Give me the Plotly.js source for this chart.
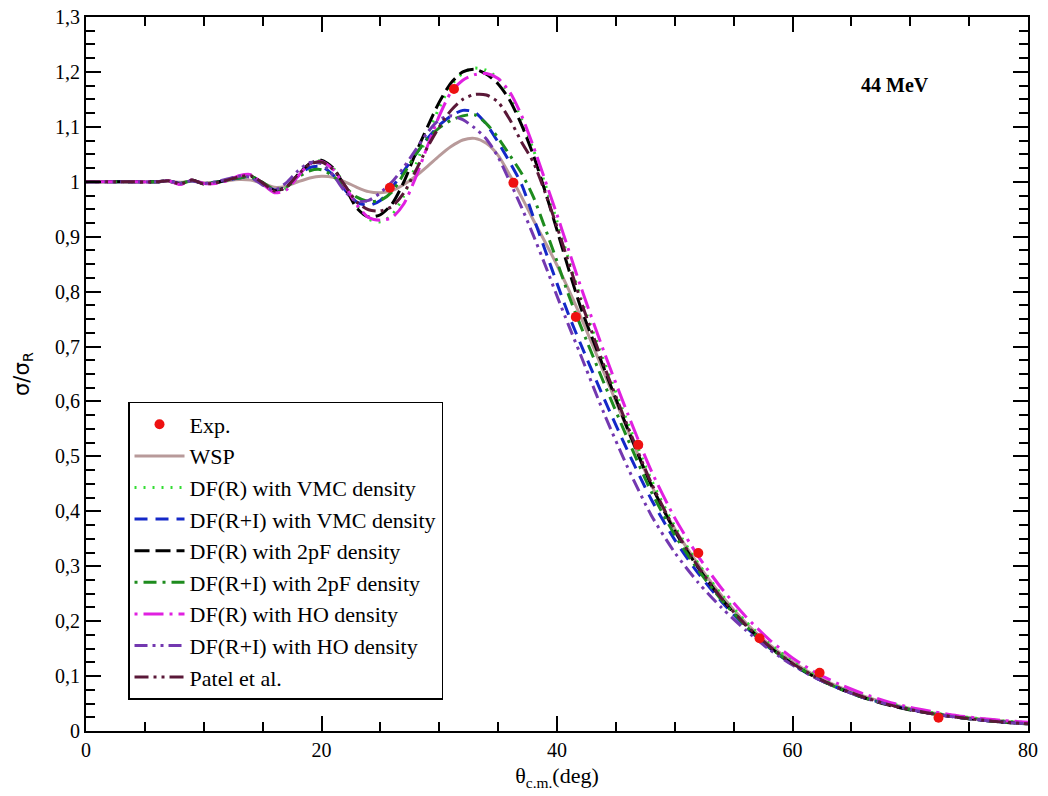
<!DOCTYPE html>
<html>
<head>
<meta charset="utf-8">
<script src="https://cdn.plot.ly/plotly-3.0.1.min.js"></script>
<style>html,body{margin:0;padding:0;background:#fff;}#chart{width:1048px;height:796px;}</style>
</head>
<body>
<div id="chart"></div>
<script>
// angle grid (deg) shared by all calculated curves
var theta = [0,3,6,7,8,9,10,11,12,13,14,15,16,17,18,19,20,21,22,23,24,25,26,27,28,29,30,31,32,33,34,35,36,37,38,39,40,41,42,44,46,48,50,52,54,56,58,60,62,64,66,68,70,72,74,76,78,80];

var wsp = [1.0,1.0,1.0,1.001,0.999,1.001,0.998,0.999,1.002,1.004,1.003,0.997,0.99,0.992,1.0,1.007,1.01,1.008,1.0,0.99,0.982,0.98,0.984,0.995,1.01,1.028,1.047,1.064,1.076,1.079,1.07,1.048,1.012,0.972,0.93,0.89,0.848,0.803,0.755,0.652,0.548,0.448,0.368,0.303,0.246,0.198,0.158,0.126,0.1,0.08,0.064,0.051,0.041,0.033,0.027,0.022,0.018,0.015];

var dfR_vmc = [1.0,1.0,1.0,1.002,0.996,1.003,0.996,0.998,1.003,1.009,1.011,0.997,0.981,0.988,1.012,1.033,1.038,1.025,0.993,0.957,0.932,0.927,0.94,0.975,1.03,1.085,1.135,1.175,1.198,1.207,1.203,1.188,1.158,1.113,1.058,0.995,0.928,0.858,0.79,0.673,0.562,0.458,0.373,0.305,0.248,0.2,0.16,0.128,0.102,0.081,0.065,0.052,0.041,0.033,0.027,0.022,0.018,0.015];

var dfRI_vmc = [1.0,1.0,1.0,1.001,0.997,1.002,0.997,0.999,1.003,1.007,1.008,0.998,0.985,0.99,1.01,1.026,1.028,1.012,0.985,0.963,0.957,0.966,0.99,1.02,1.05,1.079,1.103,1.12,1.13,1.127,1.105,1.072,1.035,0.995,0.935,0.875,0.815,0.757,0.705,0.605,0.51,0.422,0.348,0.287,0.235,0.19,0.152,0.121,0.096,0.077,0.061,0.049,0.039,0.031,0.025,0.02,0.016,0.013];

var dfR_2pf = [1.0,1.0,1.0,1.002,0.996,1.003,0.996,0.998,1.004,1.009,1.01,0.998,0.984,0.99,1.013,1.033,1.039,1.025,0.99,0.952,0.936,0.94,0.96,1.0,1.052,1.1,1.145,1.18,1.2,1.205,1.196,1.178,1.148,1.103,1.048,0.982,0.912,0.84,0.772,0.66,0.55,0.448,0.364,0.297,0.24,0.193,0.154,0.122,0.097,0.077,0.061,0.048,0.038,0.031,0.025,0.02,0.016,0.013];

var dfRI_2pf = [1.0,1.0,1.0,1.001,0.997,1.002,0.997,0.999,1.003,1.007,1.009,0.999,0.986,0.99,1.008,1.02,1.022,1.01,0.99,0.972,0.964,0.966,0.982,1.015,1.05,1.078,1.098,1.112,1.12,1.122,1.106,1.08,1.048,1.015,0.972,0.915,0.855,0.793,0.738,0.633,0.532,0.436,0.357,0.293,0.238,0.192,0.153,0.122,0.097,0.077,0.061,0.049,0.039,0.031,0.025,0.02,0.016,0.013];

var dfR_ho = [1.0,1.0,1.0,1.002,0.995,1.003,0.997,0.997,1.002,1.011,1.013,0.996,0.98,0.985,1.01,1.033,1.037,1.022,0.992,0.958,0.935,0.93,0.935,0.96,1.008,1.065,1.12,1.163,1.185,1.195,1.197,1.188,1.163,1.12,1.064,1.002,0.94,0.875,0.81,0.69,0.578,0.474,0.388,0.318,0.259,0.209,0.167,0.133,0.106,0.085,0.068,0.054,0.043,0.035,0.028,0.023,0.019,0.016];

var dfRI_ho = [1.0,1.0,1.0,1.002,0.997,1.002,0.997,1.0,1.005,1.01,1.008,0.994,0.985,0.998,1.02,1.035,1.033,1.012,0.982,0.964,0.966,0.98,1.0,1.027,1.058,1.09,1.113,1.12,1.113,1.098,1.078,1.045,1.0,0.953,0.902,0.848,0.792,0.738,0.685,0.578,0.48,0.393,0.325,0.27,0.224,0.184,0.149,0.12,0.096,0.077,0.061,0.049,0.039,0.031,0.025,0.02,0.016,0.013];

var patel = [1.0,1.0,1.0,1.002,0.996,1.003,0.996,0.998,1.003,1.009,1.011,0.998,0.983,0.99,1.013,1.032,1.036,1.022,0.993,0.963,0.949,0.947,0.955,0.98,1.02,1.063,1.1,1.13,1.15,1.159,1.158,1.145,1.113,1.072,1.035,0.98,0.918,0.852,0.785,0.665,0.555,0.452,0.367,0.299,0.241,0.194,0.155,0.123,0.098,0.078,0.062,0.049,0.039,0.031,0.025,0.02,0.016,0.013];

// experimental data
var expTheta = [25.8,31.25,36.3,41.6,46.9,52.0,57.2,62.3,72.4];
var expRatio = [0.989,1.169,0.998,0.754,0.521,0.324,0.169,0.106,0.024];

var names = ["Exp.","WSP","DF(R) with VMC density","DF(R+I) with VMC density","DF(R) with 2pF density","DF(R+I) with 2pF density","DF(R) with HO density","DF(R+I) with HO density","Patel et al."];

var serif = "'Liberation Serif', 'Times New Roman', serif";

function curve(y, name, color, dash, grp){
  return {x: theta, y: y, name: name, type: 'scatter', mode: 'lines',
    line: {color: color, width: 3, dash: dash, shape: 'spline', smoothing: 0.7},
    legendgroup: grp};
}

var traces = [
  {x: expTheta, y: expRatio, name: names[0], type: 'scatter', mode: 'markers',
   marker: {color: '#ee1111', size: 10}, legendgroup: 'g0'},
  curve(wsp, names[1], '#b89a9a', 'solid', 'g1'),
  curve(dfR_vmc, names[2], '#33dd33', '2px,7px', 'g2'),
  curve(dfRI_vmc, names[3], '#1428c8', '13px,8px', 'g3'),
  curve(dfR_2pf, names[4], '#000000', '15px,6px', 'g4'),
  curve(dfRI_2pf, names[5], '#1e8c1e', '3px,6px,13px,6px', 'g5'),
  curve(dfR_ho, names[6], '#e020e0', '3px,6px,20px,6px', 'g6'),
  curve(dfRI_ho, names[7], '#7338b0', '13px,5px,3px,5px,3px,5px', 'g7'),
  curve(patel, names[8], '#5a1838', '14px,5px,3px,5px,3px,5px', 'g8')
];
// draw exp points on top
var ordered = traces.slice(1).concat([traces[0]]);

var layout = {
  width: 1048, height: 796,
  margin: {l: 86, r: 20, t: 17, b: 65},
  paper_bgcolor: '#fff', plot_bgcolor: '#fff',
  separators: ',.',
  font: {family: serif, size: 20, color: '#000'},
  showlegend: true,
  legend: {
    x: 0.0446, y: 0.4608, xanchor: 'left', yanchor: 'top',
    bgcolor: '#fff', bordercolor: '#000', borderwidth: 1.5,
    font: {family: serif, size: 22, color: '#000'},
    traceorder: 'grouped', tracegroupgap: 0, itemwidth: 50
  },
  xaxis: {
    range: [0, 80], dtick: 20, tick0: 0,
    ticks: 'inside', ticklen: 15, tickwidth: 2, tickcolor: '#000',
    minor: {dtick: 5, ticks: 'inside', ticklen: 9, tickwidth: 2, tickcolor: '#000'},
    showline: true, linewidth: 2, linecolor: '#000', mirror: 'allticks',
    showgrid: false, zeroline: false,
    tickfont: {family: serif, size: 20},
    title: {text: 'θ<sub>c.m.</sub>(deg)', font: {family: serif, size: 22}, standoff: 8}
  },
  yaxis: {
    range: [0, 1.3], dtick: 0.1, tick0: 0,
    ticks: 'inside', ticklen: 15, tickwidth: 2, tickcolor: '#000',
    minor: {dtick: 0.025, ticks: 'inside', ticklen: 9, tickwidth: 2, tickcolor: '#000'},
    showline: true, linewidth: 2, linecolor: '#000', mirror: 'allticks',
    showgrid: false, zeroline: false,
    tickfont: {family: serif, size: 20},
    title: {text: 'σ/σ<sub>R</sub>', font: {family: 'DejaVu Sans, sans-serif', size: 21}, standoff: 20}
  },
  annotations: [{
    x: 68.7, y: 1.177, xref: 'x', yref: 'y', showarrow: false,
    text: '<b>44 MeV</b>', font: {family: serif, size: 20, color: '#000'}
  }]
};

ordered.forEach(function(t){ t.legendrank = names.indexOf(t.name) + 1; });

Plotly.newPlot('chart', ordered, layout, {displayModeBar: false, staticPlot: true});
</script>
</body>
</html>
